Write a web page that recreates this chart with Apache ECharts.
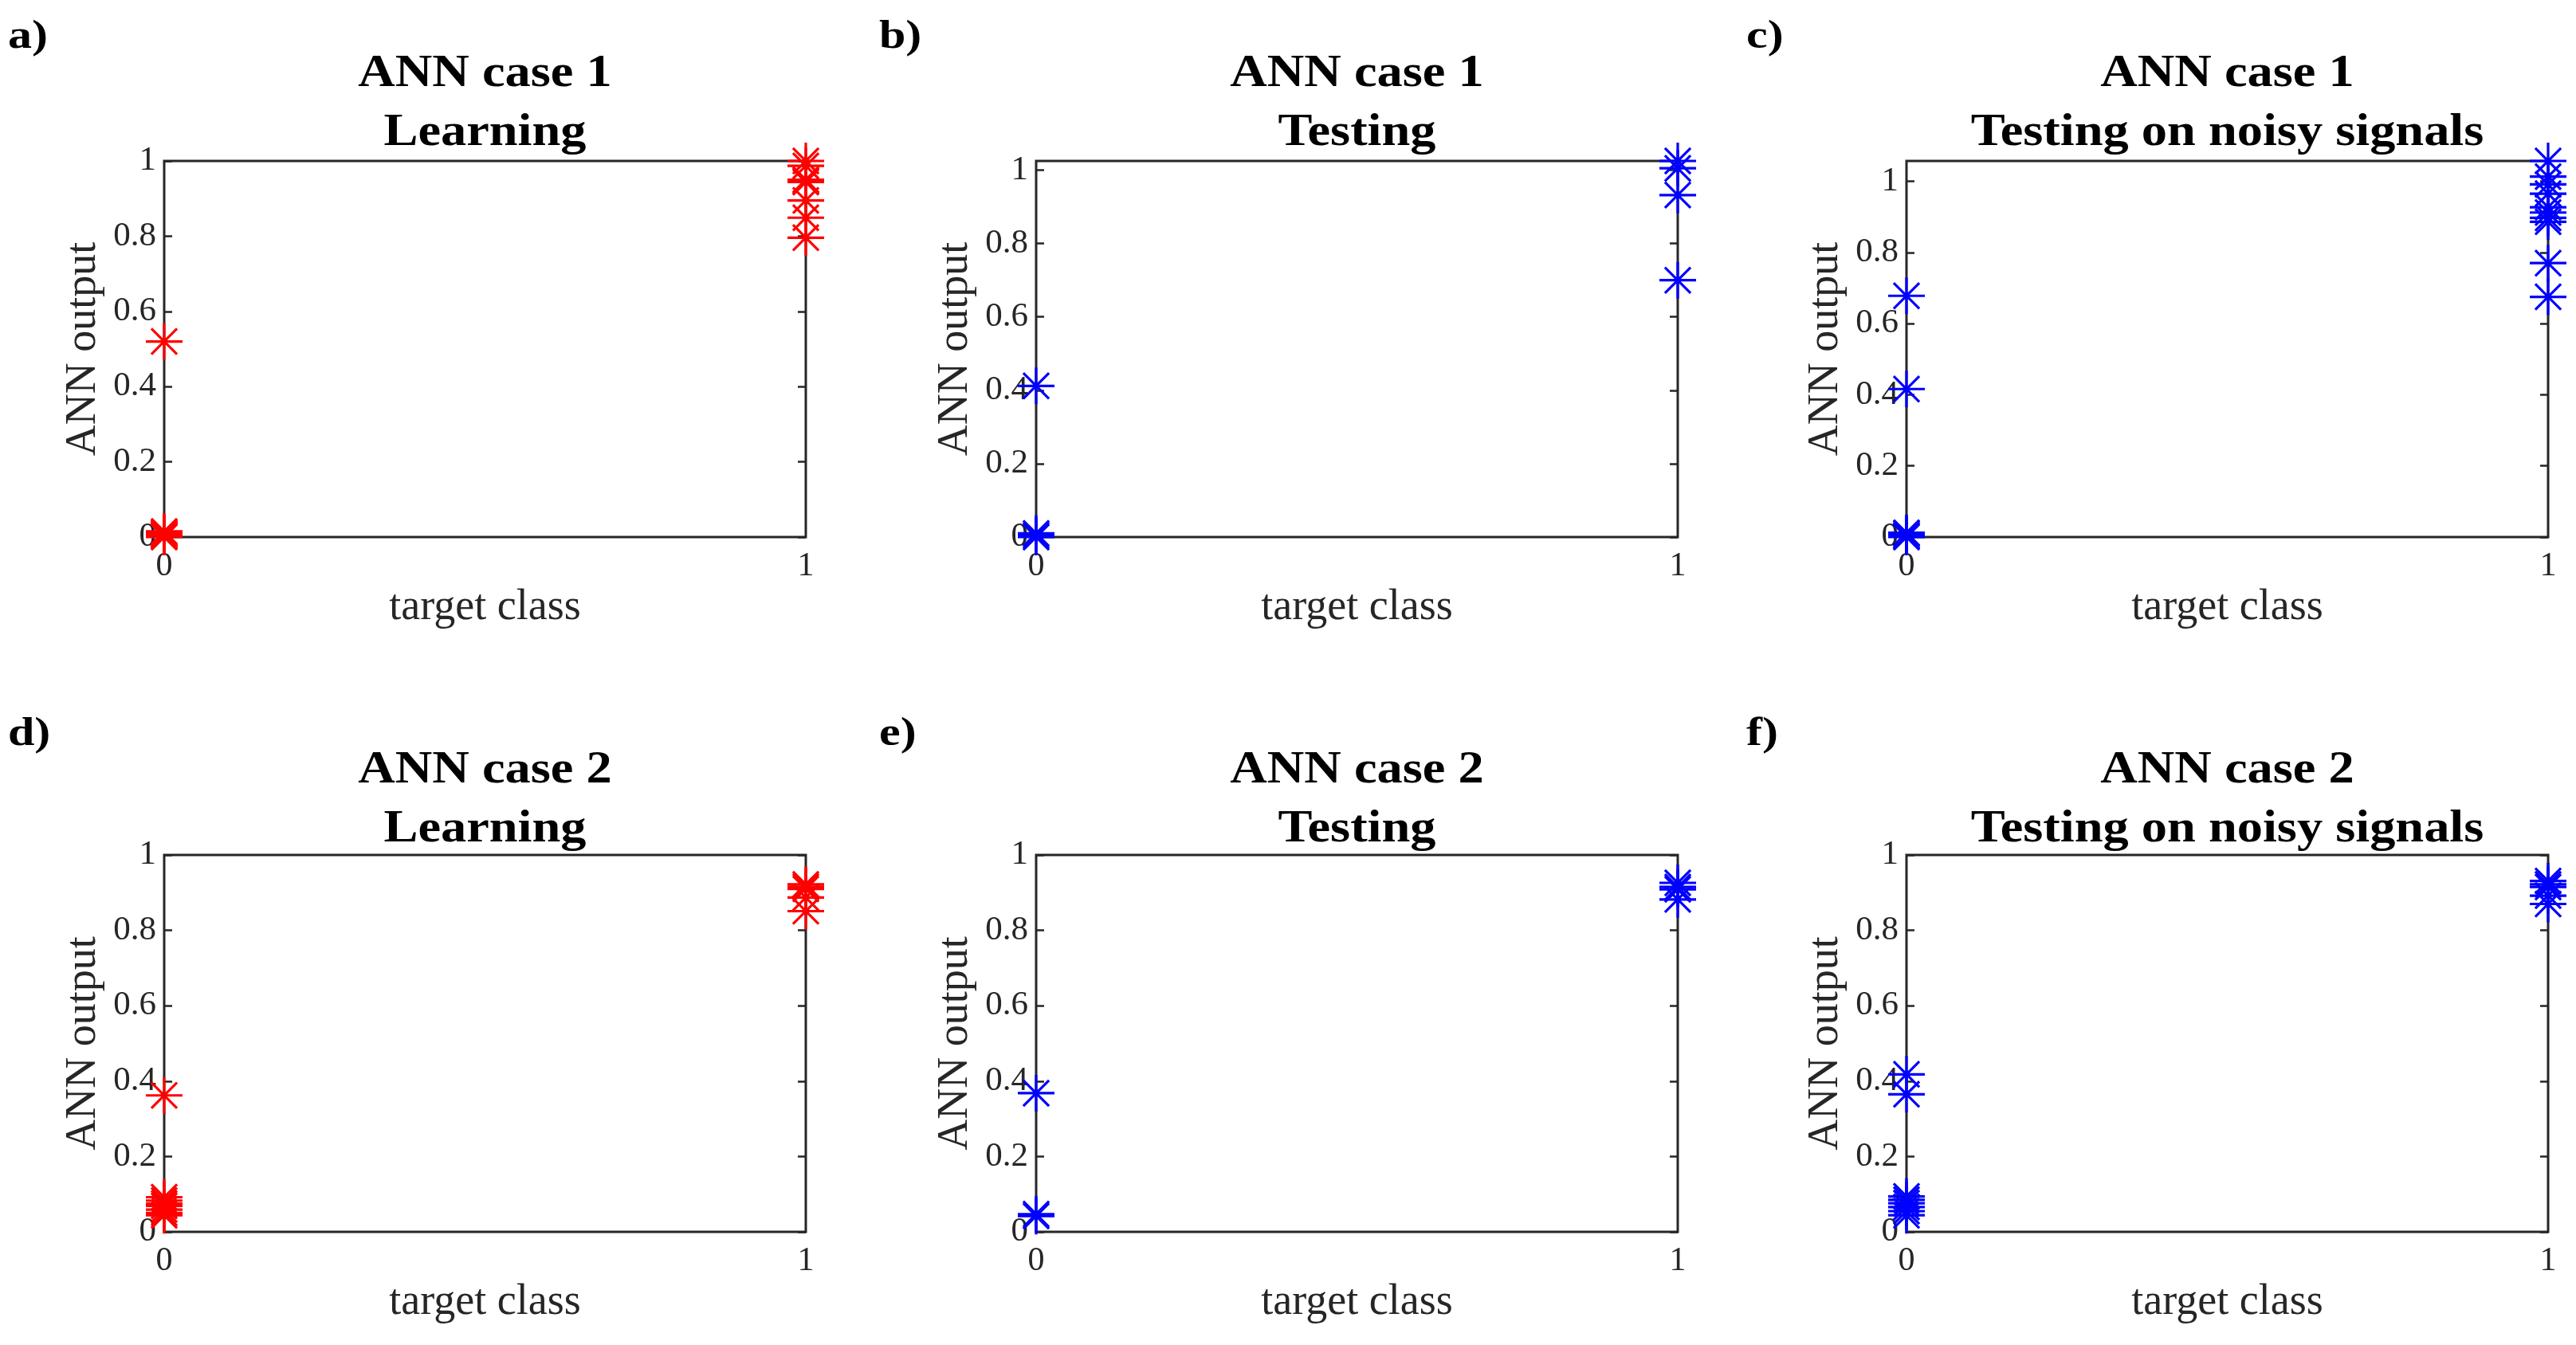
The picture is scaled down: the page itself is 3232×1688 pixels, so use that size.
<!DOCTYPE html>
<html>
<head>
<meta charset="utf-8">
<script src="https://cdn.jsdelivr.net/npm/echarts@6/dist/echarts.min.js"></script>
<style>
  html, body { margin: 0; padding: 0; background: #ffffff; }
  #chart { width: 3232px; height: 1688px; }
</style>
</head>
<body>
<div id="chart"></div>
<script>
// ---------------- data ----------------
const xTicks = [0, 1];
const yTicks = [0, 0.2, 0.4, 0.6, 0.8, 1];
const panelLabels = ['a)', 'b)', 'c)', 'd)', 'e)', 'f)'];
const titleLine1 = ['ANN case 1', 'ANN case 1', 'ANN case 1', 'ANN case 2', 'ANN case 2', 'ANN case 2'];
const titleLine2 = ['Learning', 'Testing', 'Testing on noisy signals', 'Learning', 'Testing', 'Testing on noisy signals'];
const yMax = [1, 1.025, 1.057, 1, 1, 1];
const xAxisName = 'target class';
const yAxisName = 'ANN output';

// ANN outputs for samples of target class 0 and target class 1
const a_class0 = [0.52, 0.0, 0.002, 0.004, 0.006, 0.008, 0.01, 0.012, 0.015];
const a_class1 = [1.0, 0.987, 0.95, 0.947, 0.944, 0.895, 0.849, 0.796];
const b_class0 = [0.412, 0.0, 0.005, 0.01];
const b_class1 = [1.025, 1.005, 0.932, 0.70];
const c_class0 = [0.678, 0.416, 0.0, 0.003, 0.006, 0.01, 0.012];
const c_class1 = [1.057, 1.013, 0.991, 0.965, 0.927, 0.912, 0.897, 0.886, 0.770, 0.675];
const d_class0 = [0.362, 0.092, 0.083, 0.075, 0.069, 0.059, 0.05, 0.044];
const d_class1 = [0.922, 0.916, 0.91, 0.887, 0.851];
const e_class0 = [0.368, 0.047, 0.042];
const e_class1 = [0.926, 0.915, 0.909, 0.882];
const f_class0 = [0.418, 0.365, 0.094, 0.085, 0.076, 0.066, 0.055, 0.044];
const f_class1 = [0.931, 0.922, 0.915, 0.892, 0.87];

const class0Sets = [a_class0, b_class0, c_class0, d_class0, e_class0, f_class0];
const class1Sets = [a_class1, b_class1, c_class1, d_class1, e_class1, f_class1];

// ---------------- layout & style ----------------
const RED = '#ff0000', BLUE = '#0000ff';
const panelColors = [RED, BLUE, BLUE, RED, BLUE, BLUE];
const gridLefts = [206, 1300, 2392];
const gridTops = [202, 1073];
const gridHeights = [472, 473];
const gridWidth = 805;
const labelLefts = [10, 1103, 2191];
const labelTops = [22, 897];
const titleTops = [57, 931];
const AXC = '#262626';
const FONT = '"Liberation Serif", "Times New Roman", serif';
const STAR = 'path://M0,-10L0,10M-10,0L10,0M-7,-7L7,7M-7,7L7,-7';

const grids = [], xAxes = [], yAxes = [], series = [], graphics = [];
for (let i = 0; i < 6; i++) {
  const row = Math.floor(i / 3), col = i % 3;
  const left = gridLefts[col], top = gridTops[row], h = gridHeights[row];
  grids.push({
    left: left, top: top, width: gridWidth, height: h,
    show: true, borderColor: AXC, borderWidth: 3, backgroundColor: 'transparent'
  });
  xAxes.push({
    type: 'value', gridIndex: i, min: 0, max: 1, position: 'bottom',
    axisLine: { show: false },
    axisTick: { show: false },
    splitLine: { show: false },
    axisLabel: { customValues: xTicks, fontSize: 42, color: AXC, fontFamily: FONT, margin: 16 },
    name: xAxisName, nameLocation: 'middle', nameGap: 62,
    nameTextStyle: { fontSize: 54, color: AXC, fontFamily: FONT }
  });
  yAxes.push({
    type: 'value', gridIndex: i, min: 0, max: yMax[i], position: 'left',
    axisLine: { show: false },
    axisTick: { show: true, inside: true, length: 10, customValues: yTicks, lineStyle: { color: AXC, width: 2.5 } },
    splitLine: { show: false },
    axisLabel: { customValues: yTicks, fontSize: 43, color: AXC, fontFamily: FONT, margin: 10 },
    name: yAxisName, nameLocation: 'middle', nameGap: 74, nameRotate: 90,
    nameTextStyle: { fontSize: 54, color: AXC, fontFamily: FONT }
  });
  yAxes.push({
    type: 'value', gridIndex: i, min: 0, max: yMax[i], position: 'right',
    axisLine: { show: false },
    axisTick: { show: true, inside: true, length: 10, customValues: yTicks, lineStyle: { color: AXC, width: 2.5 } },
    splitLine: { show: false },
    axisLabel: { show: false }
  });
  const pts = class0Sets[i].map(v => [0, v]).concat(class1Sets[i].map(v => [1, v]));
  series.push({
    type: 'scatter', xAxisIndex: i, yAxisIndex: 2 * i, clip: false,
    symbol: STAR, symbolSize: 46, symbolKeepAspect: true,
    itemStyle: { color: 'transparent', borderColor: panelColors[i], borderWidth: 3.2, opacity: 1 },
    emphasis: { disabled: true },
    data: pts
  });
  graphics.push({
    type: 'text', x: left + gridWidth / 2, y: titleTops[row], scaleX: 1.15,
    style: {
      text: titleLine1[i] + '\n' + titleLine2[i],
      textAlign: 'center', textVerticalAlign: 'top',
      font: 'bold 56px "Liberation Serif", "Times New Roman", serif',
      lineHeight: 74, fill: '#000000'
    }
  });
  graphics.push({
    type: 'text', x: labelLefts[col], y: labelTops[row], scaleX: 1.2,
    style: {
      text: panelLabels[i],
      textAlign: 'left', textVerticalAlign: 'top',
      font: 'bold 50px "Liberation Serif", "Times New Roman", serif',
      lineHeight: 50, fill: '#000000'
    }
  });
}

const chart = echarts.init(document.getElementById('chart'), null, { renderer: 'canvas' });
chart.setOption({
  animation: false,
  backgroundColor: '#ffffff',
  grid: grids,
  xAxis: xAxes,
  yAxis: yAxes,
  series: series,
  graphic: graphics
});
</script>
</body>
</html>
